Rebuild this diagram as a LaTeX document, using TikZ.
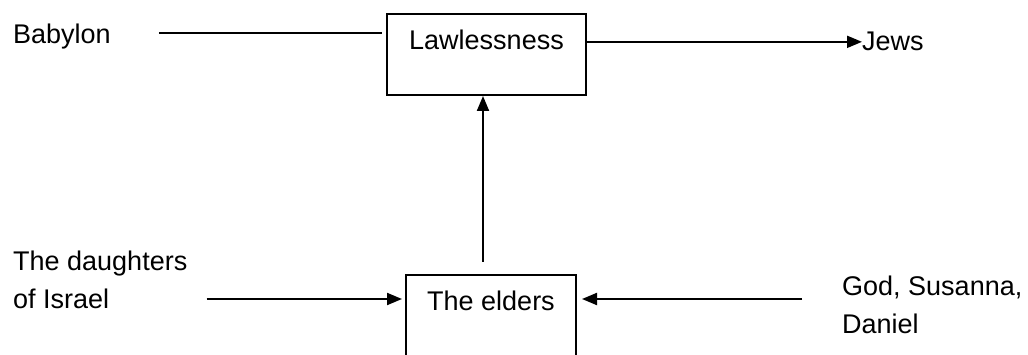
\documentclass[tikz,border=0pt]{standalone}
\usepackage{fontspec}
\setmainfont{Liberation Sans}
\usetikzlibrary{arrows.meta}

\begin{document}
\begin{tikzpicture}[x=1pt, y=-1pt,
    every node/.style={inner sep=0pt, font=\fontsize{27}{38}\selectfont},
    textbox/.style={draw, line width=2pt, text height=36pt, text depth=45pt},
    link/.style={line width=2pt},
    arr/.style={line width=2pt, -{Triangle[length=15pt,width=12pt]}}]
   \clip (0,0) rectangle (1028,355);
   \node[anchor=base west] (babylon) at (13,44) {Babylon};
   \node[textbox, minimum width=199pt, anchor=base] (law) at (486.5,50) {Lawlessness};
   \node[anchor=base west] (jews) at (862,51) {Jews};
   \node[anchor=north west, align=left] (daughters) at (13,251) {The daughters\\of Israel};
   \node[textbox, minimum width=170pt, text depth=60pt, anchor=base] (elders) at (491,311) {The elders};
   \node[anchor=north west, align=left] (god) at (842,276) {God, Susanna,\\Daniel};
   \coordinate (toprow) at (0,33);
   \coordinate (botrow) at (0,299);
   \draw[link] ([xshift=48pt]babylon.east |- toprow) to ([xshift=-4pt]law.west |- toprow);
   \draw[arr] (law.east |- jews.west) to (jews.west);
   \draw[arr] ([xshift=-8pt,yshift=12pt]elders.north) to ([xshift=-3.5pt]law.south);
   \draw[arr] ([xshift=19pt]daughters.east |- botrow) to ([xshift=-3pt]elders.west |- botrow);
   \draw[arr] ([xshift=-40pt]god.west |- botrow) to ([xshift=5pt]elders.east |- botrow);
 \end{tikzpicture}
\end{document}
